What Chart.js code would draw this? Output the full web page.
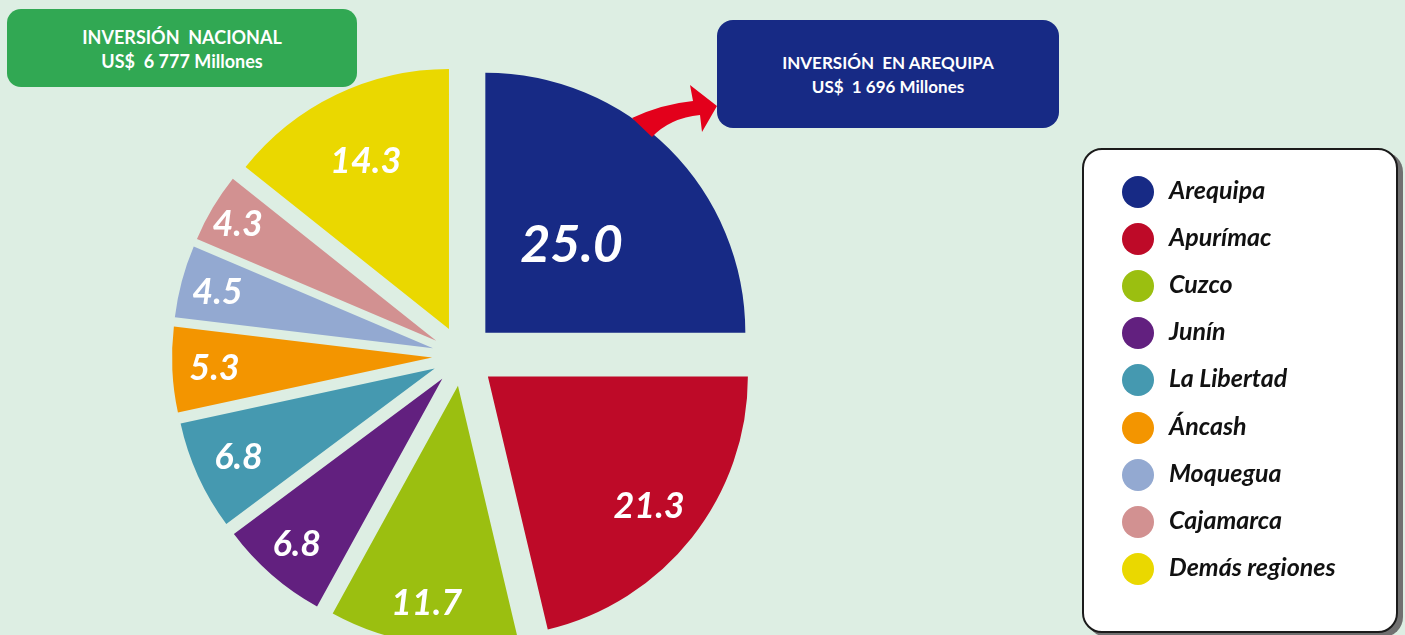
<!DOCTYPE html>
<html lang="es">
<head>
<meta charset="utf-8">
<title>Inversión minera por región</title>
<script src="https://cdn.jsdelivr.net/npm/chart.js@4.4.1/dist/chart.umd.min.js"></script>
<style>
  html, body { margin:0; padding:0; }
  body { width:1405px; height:635px; overflow:hidden; position:relative; background:#ddeee3; font-family:"Lato","Open Sans",sans-serif; }
  #wrap { position:absolute; left:162px; top:56px; width:600px; height:600px; }
  .caja { position:absolute; box-sizing:border-box; color:#fff; font-weight:bold; text-align:center; font-size:17px; line-height:24px; }
  #nacional { left:7px; top:9px; width:350px; height:78px; padding-top:16px; background:#31a853; border-radius:14px; font-size:18px; }
  #arequipa { left:717px; top:20px; width:342px; height:108px; padding-top:31px; background:#172a85; border-radius:16px; }
  #flecha { position:absolute; left:0; top:0; }
  #leyenda { position:absolute; left:1082px; top:148px; width:316px; height:485px; box-sizing:border-box; background:#fff; border:2px solid #1b1b1b; border-radius:20px; box-shadow:5px 4px 0 #707070; }
  .item { position:absolute; left:38px; height:32px; line-height:30px; white-space:nowrap; font-size:25px; font-weight:bold; font-style:italic; color:#111; }
  .item span.punto { position:absolute; left:0; top:0; width:32px; height:32px; border-radius:50%; }
  .item span.txt { position:absolute; left:47px; top:-2px; }
</style>
</head>
<body>

<div id="wrap"><canvas id="grafRegiones" width="600" height="600"></canvas></div>

<div class="caja" id="nacional">INVERSIÓN&nbsp; NACIONAL<br>US$&nbsp; 6 777 Millones</div>
<div class="caja" id="arequipa">INVERSIÓN&nbsp; EN AREQUIPA<br>US$&nbsp; 1 696 Millones</div>

<svg id="flecha" width="1405" height="635">
  <path d="M632,118 Q662,104 693,101 L690,85 L717,106 L702,132 L700,115 Q670,118 652,137 Z" fill="#e3001b"/>
</svg>

<div id="leyenda"></div>

<script>
(function () {

  // participación en la inversión nacional (%)
  const regiones = ["Arequipa", "Apurímac", "Cuzco", "Junín", "La Libertad", "Áncash", "Moquegua", "Cajamarca", "Demás regiones"];
  const participacion = [25.0, 21.3, 11.7, 6.8, 6.8, 5.3, 4.5, 4.3, 14.3];
  const colores = ["#172a85", "#be0a28", "#9bbf10", "#62207f", "#4599b0", "#f39500", "#93a9d1", "#d29191", "#ead800"];

  // separacion de cada porcion y posicion de su etiqueta (fraccion del radio)
  const separacion = [33, 33, 30, 30, 30, 30, 30, 30, 30];
  const posEtiqueta = [0.48, 0.80, 0.84, 0.84, 0.82, 0.83, 0.85, 0.88, 0.72];

  const separar = {
    id: "separar",
    afterDatasetsUpdate(chart, args, opts) {
      chart.getDatasetMeta(0).data.forEach((arc, i) => {
        const mid = (arc.startAngle + arc.endAngle) / 2;
        const d = opts.distancia[i] || 0;
        arc.x += Math.cos(mid) * d;
        arc.y += Math.sin(mid) * d;
      });
    }
  };

  const etiquetas = {
    id: "etiquetas",
    afterDatasetsDraw(chart, args, opts) {
      const ctx = chart.ctx;
      const valores = chart.data.datasets[0].data;
      ctx.save();
      ctx.fillStyle = "#fff";
      ctx.textAlign = "center";
      ctx.textBaseline = "middle";
      chart.getDatasetMeta(0).data.forEach((arc, i) => {
        const mid = (arc.startAngle + arc.endAngle) / 2;
        const r = arc.outerRadius * opts.radio[i];
        ctx.font = "italic bold " + (i === 0 ? 52 : 36) + "px Lato";
        ctx.fillText(valores[i].toFixed(1), arc.x + Math.cos(mid) * r - 2, arc.y + Math.sin(mid) * r + 1);
      });
      ctx.restore();
    }
  };

  new Chart(document.getElementById("grafRegiones"), {
    type: "pie",
    data: {
      labels: regiones,
      datasets: [{
        data: participacion,
        backgroundColor: colores,
        borderWidth: 0,
        radius: 260,
        clip: false
      }]
    },
    options: {
      responsive: false,
      devicePixelRatio: 1,
      animation: false,
      radius: 260,
      layout: { padding: 0 },
      events: [],
      plugins: {
        legend: { display: false },
        tooltip: { enabled: false },
        separar: { distancia: separacion },
        etiquetas: { radio: posEtiqueta }
      }
    },
    plugins: [separar, etiquetas]
  });

  // leyenda
  const ley = document.getElementById("leyenda");
  regiones.forEach((nombre, i) => {
    const div = document.createElement("div");
    div.className = "item";
    div.style.top = (26 + i * 47.1) + "px";
    div.innerHTML = `<span class="punto" style="background:${colores[i]}"></span><span class="txt">${nombre}</span>`;
    ley.appendChild(div);
  });

})();
</script>
</body>
</html>
